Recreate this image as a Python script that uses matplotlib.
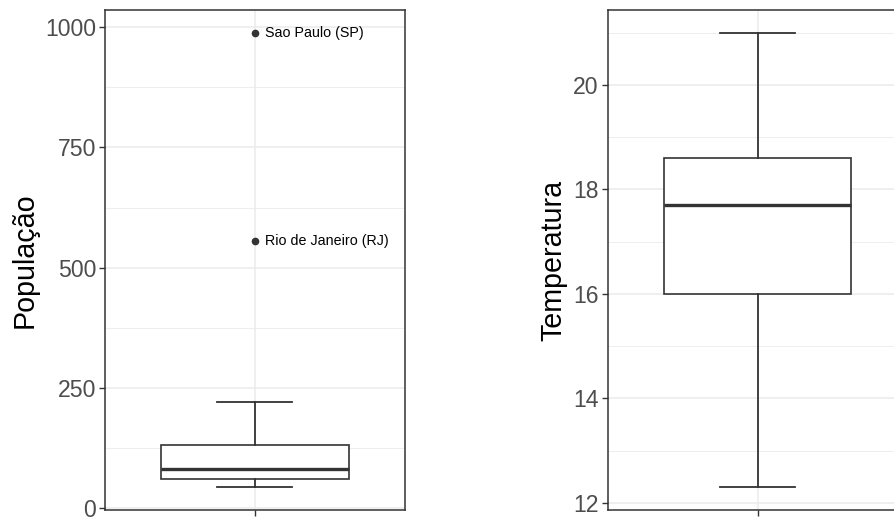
import matplotlib
matplotlib.use("Agg")
import matplotlib.pyplot as plt

# left panel: population (box stats + labelled outliers)
pop_stats = [44, 62, 82, 132, 222]          # whislo, q1, med, q3, whishi
pop_outliers = [988, 556]
pop_labels = ["Sao Paulo (SP)", "Rio de Janeiro (RJ)"]
pop_ticks = [0, 250, 500, 750, 1000]

# right panel: temperature
temp_stats = [12.3, 16.0, 17.7, 18.6, 21.0]
temp_outliers = []
temp_ticks = [12, 14, 16, 18, 20]

plt.rcParams["font.family"] = ["Liberation Sans", "DejaVu Sans"]

DARK = "#333333"
GRID = "#EBEBEB"


def draw_box(ax, stats, outliers, ticks, ylabel):
    lo, q1, med, q3, hi = stats
    bx = [{"whislo": lo, "q1": q1, "med": med, "q3": q3, "whishi": hi,
           "fliers": outliers}]
    ax.bxp(bx, positions=[1], widths=0.75, capwidths=0.3, patch_artist=True,
           boxprops=dict(facecolor="white", edgecolor=DARK, linewidth=1.2),
           medianprops=dict(color=DARK, linewidth=2.4),
           whiskerprops=dict(color=DARK, linewidth=1.3),
           capprops=dict(color=DARK, linewidth=1.3),
           flierprops=dict(marker="o", markersize=4.5, markerfacecolor=DARK,
                           markeredgecolor=DARK), zorder=3)

    ax.set_yticks(ticks)
    step = ticks[1] - ticks[0]
    minors = [t + step / 2 for t in [ticks[0] - step] + ticks]
    ax.set_yticks(minors, minor=True)
    ax.set_xticks([1])
    ax.set_xticklabels([""])

    # ggplot-like 5% expansion, set after ticks so they don't widen it
    vals = [lo, hi] + list(outliers)
    rng = max(vals) - min(vals)
    ax.set_ylim(min(vals) - 0.05 * rng, max(vals) + 0.05 * rng)
    ax.set_xlim(0.4, 1.6)

    ax.grid(True, which="major", color=GRID, linewidth=1.1, zorder=0)
    ax.grid(True, which="minor", axis="y", color=GRID, linewidth=0.6, zorder=0)
    ax.set_axisbelow(True)

    ax.tick_params(axis="both", which="major", length=4.5, width=1.0,
                   color=DARK, labelsize=16.6, labelcolor="#4D4D4D", pad=2)
    ax.tick_params(axis="y", which="minor", length=0)
    for sp in ax.spines.values():
        sp.set_color(DARK)
        sp.set_linewidth(1.1)

    ax.set_ylabel(ylabel, fontsize=20.6, color="black")
    ax.yaxis.label.set_va("center")


fig = plt.figure(figsize=(8.95, 5.18), dpi=100)

ax1 = fig.add_axes([105 / 895, 8 / 518, 300 / 895, 500 / 518])
draw_box(ax1, pop_stats, pop_outliers, pop_ticks, "População")
ax1.yaxis.set_label_coords(-0.267, 0.5)
for val, txt in zip(pop_outliers, pop_labels):
    ax1.annotate(txt, xy=(1, val), xytext=(7.5, 0), textcoords="offset points",
                 ha="left", va="center", fontsize=10.3, color="black")

ax2 = fig.add_axes([607.7 / 895, 8 / 518, 300 / 895, 500 / 518])
draw_box(ax2, temp_stats, temp_outliers, temp_ticks, "Temperatura")
ax2.yaxis.set_label_coords(-0.182, 0.5)

fig.savefig("out.png", dpi=100)
